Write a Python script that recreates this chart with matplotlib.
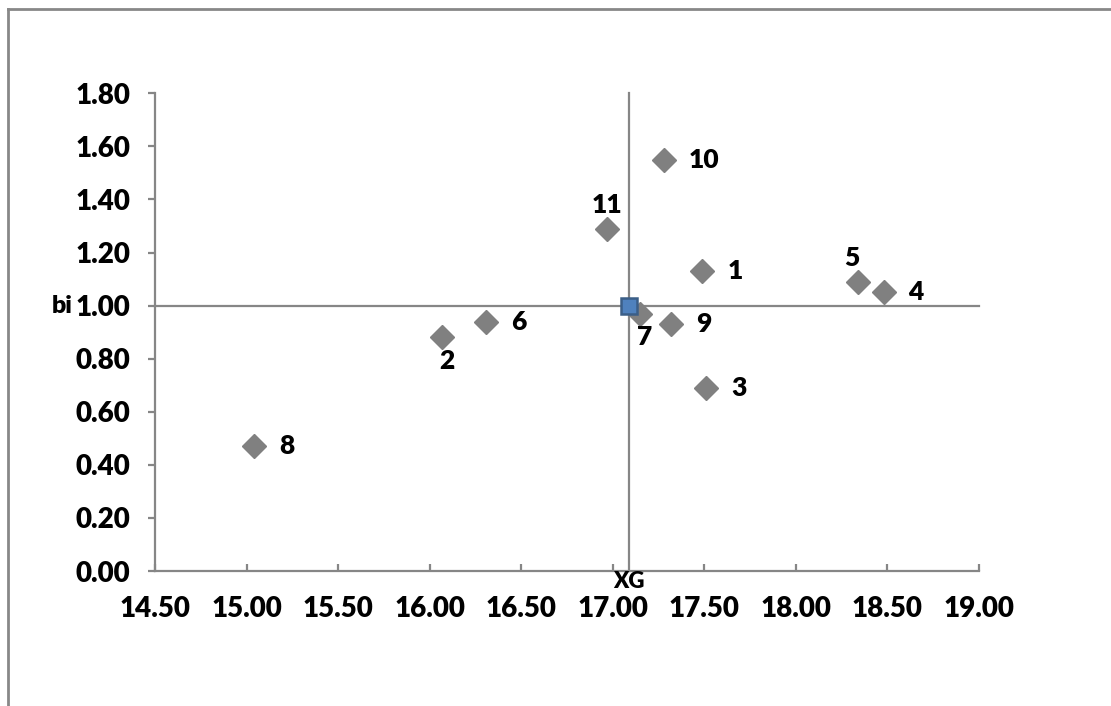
import matplotlib.pyplot as plt
from matplotlib.lines import Line2D
from matplotlib.transforms import blended_transform_factory

plt.rcParams['font.family'] = ['Lato', 'DejaVu Sans']
plt.rcParams['font.weight'] = 'bold'

# individual points (label, x, y)
labels = ["1", "2", "3", "4", "5", "6", "7", "8", "9", "10", "11"]
xs = [17.49, 16.07, 17.51, 18.48, 18.34, 16.31, 17.15, 15.04, 17.32, 17.28, 16.97]
ys = [1.13, 0.88, 0.69, 1.05, 1.09, 0.94, 0.97, 0.47, 0.93, 1.55, 1.29]
# where each label sits relative to its point
label_pos = ["right", "below", "right", "right", "above", "right",
             "below", "right", "right", "right", "above"]

# centre of gravity
xg = 17.09
yg = 1.00

xticks = [14.5, 15.0, 15.5, 16.0, 16.5, 17.0, 17.5, 18.0, 18.5, 19.0]
yticks = [0.0, 0.2, 0.4, 0.6, 0.8, 1.0, 1.2, 1.4, 1.6, 1.8]

fig = plt.figure(figsize=(11.11, 7.06), dpi=100)
ax = fig.add_axes([155 / 1111, 1 - 571 / 706, (978.7 - 155) / 1111, (571 - 93.3) / 706])

axis_col = "#868686"

# crosshair through the centre of gravity
ax.plot([xg, xg], [0, 1.8], color=axis_col, lw=1.6, zorder=1, clip_on=False)
ax.plot([14.5, 19.0], [yg, yg], color=axis_col, lw=1.6, zorder=1, clip_on=False)

ax.plot(xs, ys, linestyle="none", marker="D", ms=12, color="#808080",
        markeredgecolor="#808080", zorder=3, clip_on=False)
ax.plot([xg], [yg], linestyle="none", marker="s", ms=11.5, color="#4F81BD",
        markeredgecolor="#3B5E87", markeredgewidth=1.8, zorder=4)

offsets = {"right": (18, 0, "left", "center"),
           "above": (0, 17, "center", "center"),
           "below": (3, -17, "center", "center")}
for lab, x, y, pos in zip(labels, xs, ys, label_pos):
    dx, dy, ha, va = offsets[pos]
    if lab == "5":
        dx = -4
    ax.annotate(lab, (x, y), xytext=(dx, dy), textcoords="offset points",
                ha=ha, va=va, fontsize=19, fontweight="heavy", color="black")

ax.set_xlim(14.5, 19.0)
ax.set_ylim(0, 1.8)
ax.set_xticks(xticks)
ax.set_yticks(yticks)
ax.set_xticklabels(["%.2f" % v for v in xticks], fontweight="heavy")
ax.set_yticklabels(["%.2f" % v for v in yticks], fontweight="heavy")

for side in ["top", "right"]:
    ax.spines[side].set_visible(False)
for side in ["left", "bottom"]:
    ax.spines[side].set_color(axis_col)
    ax.spines[side].set_linewidth(1.6)

ax.tick_params(axis="x", direction="in", length=5, width=1.6, color=axis_col,
               pad=18, labelsize=20)
ax.tick_params(axis="y", direction="out", length=5, width=1.6, color=axis_col,
               pad=13, labelsize=20)

# axis names
ax.text(xg, 0, "XG", transform=ax.transData, ha="center", va="top",
        fontsize=16, fontweight="heavy")
tr = blended_transform_factory(fig.transFigure, ax.transData)
ax.text(73 / 1111, 1.0, "bi", transform=tr, ha="right", va="center",
        fontsize=18, fontweight="heavy")

# chart frame (top and left edges)
fig.add_artist(Line2D([8 / 1111, 1.0], [1 - 9 / 706, 1 - 9 / 706],
                      transform=fig.transFigure, color="#888888", lw=2))
fig.add_artist(Line2D([8 / 1111, 8 / 1111], [0, 1 - 9 / 706],
                      transform=fig.transFigure, color="#888888", lw=2))

fig.savefig("out.png", dpi=100)
